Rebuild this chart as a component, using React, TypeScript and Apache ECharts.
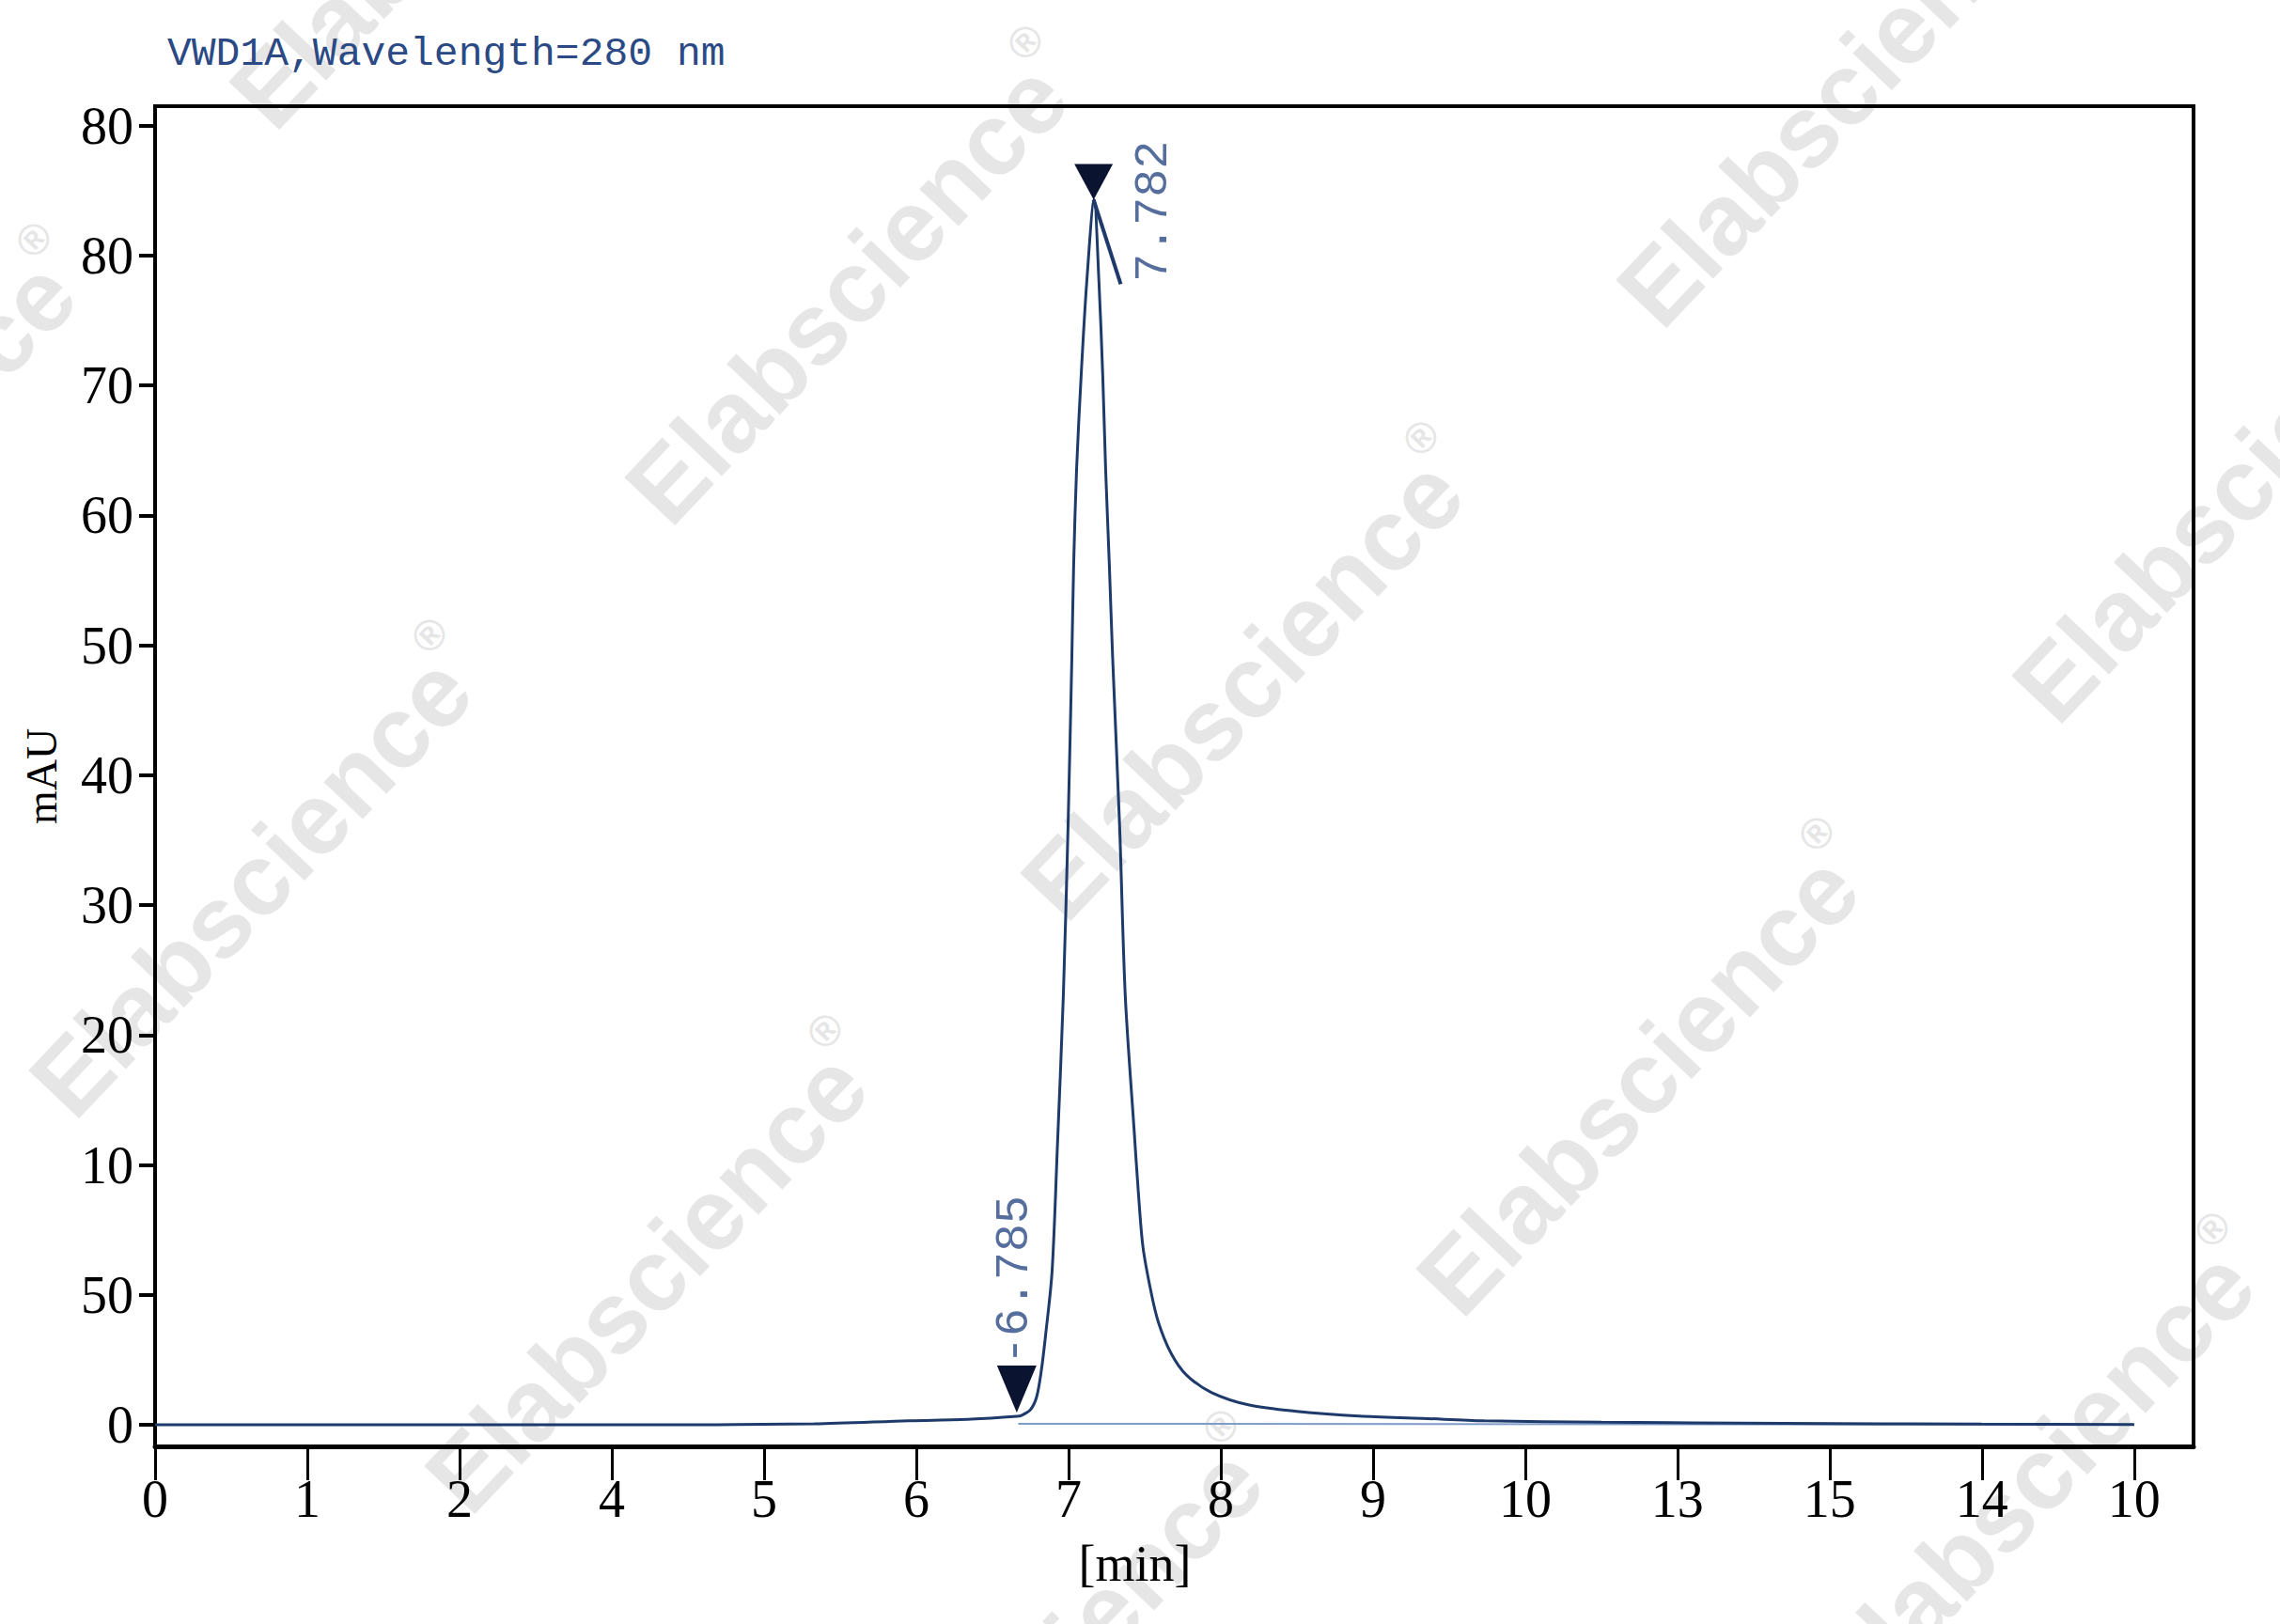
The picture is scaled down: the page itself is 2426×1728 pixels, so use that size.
import { useEffect, useRef } from "react";
import * as echarts from "echarts";

// x is in axis-tick units (tick i carries xTickLabels[i]), y likewise in tick units
const xTickLabels = ["0", "1", "2", "4", "5", "6", "7", "8", "9", "10", "13", "15", "14", "10"];
const yTickLabels = ["0", "50", "10", "20", "30", "40", "50", "60", "70", "80", "80"];

const traceX = [0, 1, 2, 3, 3.3, 4.33, 4.95, 5.36, 5.66, 5.69, 5.75, 5.79, 5.82, 5.85, 5.892, 5.927, 5.966, 5.997, 6.022, 6.034, 6.053, 6.083, 6.12, 6.168, 6.2, 6.225, 6.244, 6.268, 6.29, 6.336, 6.373, 6.43, 6.458, 6.489, 6.54, 6.59, 6.674, 6.775, 6.941, 7.188, 7.497, 7.909, 8.32, 8.73, 9.5, 10.7, 12, 13];
const traceY = [0, 0, 0, 0, 0, 0.007, 0.031, 0.043, 0.065, 0.072, 0.116, 0.212, 0.405, 0.695, 1.179, 2.142, 3.3, 4.602, 5.905, 6.628, 7.352, 8.075, 8.799, 9.43, 8.799, 8.075, 7.352, 6.628, 5.905, 4.602, 3.3, 2.287, 1.804, 1.37, 1.035, 0.791, 0.55, 0.383, 0.248, 0.152, 0.104, 0.067, 0.05, 0.031, 0.02, 0.012, 0.005, 0.002];

// integration baseline and peak tangent stroke
const baseX = [5.67, 13];
const baseY = [0.008, 0.0];
const tangentX = [6.165, 6.343];
const tangentY = [9.43, 8.78];

// peak markers (start of peak, apex) and their retention-time labels
const markerX = [5.66, 6.165];
const markerY = [0.094, 9.43];
const markerSizes: [number, number][] = [[42, 50], [41, 38]];
const peakLabels = ["-6.785", "7.782"];
const peakLabelX = [5.645, 6.559];
const peakLabelY = [1.114, 9.342];

const WATERMARKS: [number, number][] = [
  [492, -122], [913, 299], [1334, 720], [1755, 1141], [2176, 1562],
  [-142, 509], [279, 930], [700, 1351], [1121, 1772],
  [1968, 89], [2389, 510],
];

const NAVY = "#1e3a6b";
const LABEL_BLUE = "#2b4a85";

export default function App() {
  const ref = useRef<HTMLDivElement>(null);

  useEffect(() => {
    if (!ref.current) return;
    const chart = echarts.init(ref.current, null, { renderer: "svg" });

    const xTicks = xTickLabels.map((_, i) => i);
    const yTicks = yTickLabels.map((_, i) => i);
    const serif = "Liberation Serif";

    chart.setOption({
      animation: false,
      backgroundColor: "#fff",
      title: {
        text: "VWD1A,Wavelength=280 nm",
        left: 178, top: 36, padding: 0,
        textStyle: { fontFamily: "Liberation Mono", fontSize: 43, fontWeight: "normal", color: LABEL_BLUE },
      },
      grid: { left: 165, right: 92, top: 113, bottom: 189, show: true, borderColor: "#000", borderWidth: 4 },
      xAxis: {
        type: "value", min: 0, max: 13.39,
        name: "[min]", nameLocation: "middle", nameGap: 98,
        nameTextStyle: { fontFamily: serif, fontSize: 54, color: "#000", padding: [0, 84, 0, 0] },
        axisLine: { show: true, onZero: false, lineStyle: { color: "#000", width: 5 } },
        axisTick: { show: true, length: 36, customValues: xTicks, lineStyle: { color: "#000", width: 3 } },
        axisLabel: {
          customValues: xTicks, margin: 28, fontFamily: serif, fontSize: 56, color: "#000",
          formatter: (v: number) => xTickLabels[Math.round(v)] ?? "",
        },
        splitLine: { show: false },
      },
      yAxis: {
        type: "value", min: -0.166, max: 10.15,
        name: "mAU", nameLocation: "middle", nameGap: 98, nameRotate: 90,
        nameTextStyle: { fontFamily: serif, fontSize: 46, color: "#000" },
        axisLine: { show: true, onZero: false, lineStyle: { color: "#000", width: 4 } },
        axisTick: { show: true, length: 17, customValues: yTicks, lineStyle: { color: "#000", width: 4 } },
        axisLabel: {
          customValues: yTicks, margin: 23, fontFamily: serif, fontSize: 56, color: "#000",
          formatter: (v: number) => yTickLabels[Math.round(v)] ?? "",
        },
        splitLine: { show: false },
      },
      graphic: {
        elements: WATERMARKS.map(([cx, cy]) => ({
          type: "group", x: cx, y: cy, rotation: 0.812, z: -10, silent: true,
          children: [
            {
              type: "text", x: -330, y: 0, z: -10,
              style: { text: "Elabscience", font: 'bold 108px "Liberation Sans"', fill: "#e6e6e6", verticalAlign: "middle", align: "left" },
            },
            {
              type: "text", x: 290, y: -46, z: -10,
              style: { text: "®", font: 'bold 46px "Liberation Sans"', fill: "#e6e6e6", verticalAlign: "middle", align: "left" },
            },
          ],
        })),
      },
      series: [
        {
          type: "line",
          data: baseX.map((x, i) => [x, baseY[i]]),
          symbol: "none",
          lineStyle: { color: "#7f9bc8", width: 2 },
          z: 3,
        },
        {
          type: "line",
          data: traceX.map((x, i) => [x, traceY[i]]),
          symbol: "none",
          smooth: 0.3,
          lineStyle: { color: NAVY, width: 3 },
          z: 4,
        },
        {
          type: "line",
          data: tangentX.map((x, i) => [x, tangentY[i]]),
          symbol: "none",
          lineStyle: { color: NAVY, width: 4 },
          z: 4,
        },
        {
          type: "scatter",
          data: markerX.map((x, i) => ({ value: [x, markerY[i]], symbolSize: markerSizes[i] })),
          symbol: "triangle",
          symbolRotate: 180,
          symbolOffset: [0, "-50%"],
          itemStyle: { color: "#0a1330", opacity: 1 },
          z: 5,
        },
        {
          type: "scatter",
          data: peakLabelX.map((x, i) => ({ value: [x, peakLabelY[i]], name: peakLabels[i] })),
          symbolSize: 1,
          itemStyle: { color: "rgba(0,0,0,0)" },
          label: {
            show: true, position: "inside", rotate: 90,
            formatter: (p: { name: string }) => p.name,
            fontFamily: "Liberation Mono", fontSize: 50, color: LABEL_BLUE,
          },
          z: 5,
        },
      ],
    });

    return () => chart.dispose();
  }, []);

  return <div ref={ref} style={{ position: "absolute", left: 0, top: 0, width: 2426, height: 1728 }} />;
}
